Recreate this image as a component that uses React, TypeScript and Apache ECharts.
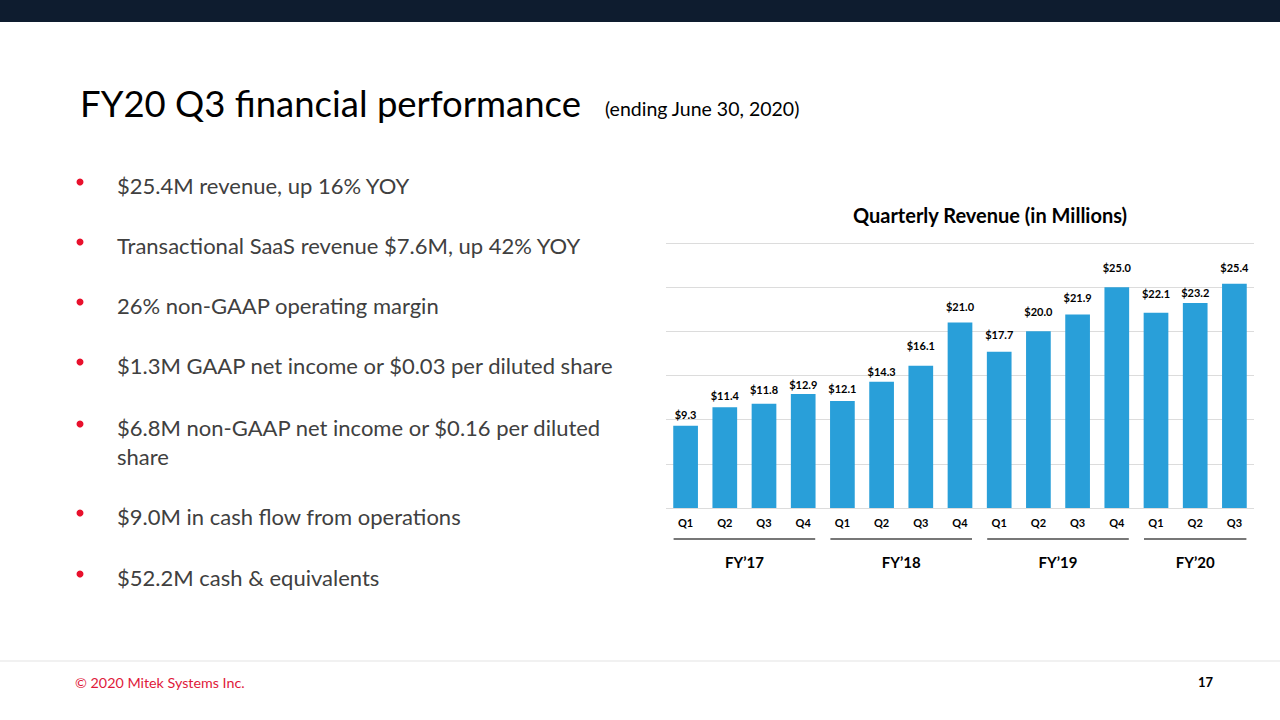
import React, { useEffect, useRef } from "react";
import * as echarts from "echarts";

const quarters = ["Q1", "Q2", "Q3", "Q4", "Q1", "Q2", "Q3", "Q4", "Q1", "Q2", "Q3", "Q4", "Q1", "Q2", "Q3"];
const revenue = [9.3, 11.4, 11.8, 12.9, 12.1, 14.3, 16.1, 21.0, 17.7, 20.0, 21.9, 25.0, 22.1, 23.2, 25.4];
const fiscalYears = ["FY\u201917", "FY\u201918", "FY\u201919", "FY\u201920"];
const yearStart = [0, 4, 8, 12];
const yearEnd = [3, 7, 11, 14];
const bullets = [
  ["$25.4M revenue, up 16% YOY"],
  ["Transactional SaaS revenue $7.6M, up 42% YOY"],
  ["26% non-GAAP operating margin"],
  ["$1.3M GAAP net income or $0.03 per diluted share"],
  ["$6.8M non-GAAP net income or $0.16 per diluted", "share"],
  ["$9.0M in cash flow from operations"],
  ["$52.2M cash & equivalents"],
];
const yTicks = { min: 0, max: 30, interval: 5 };

// style only: label lift above each bar (px)
const labelLift = [6, 6, 9, 4, 7, 5, 15, 11, 12, 14, 12, 14, 14, 5, 11];

const FONT = "Lato, 'Open Sans', sans-serif";
const bulletY = [185, 245, 305, 365, 427, 516, 577];

export default function App() {
  const ref = useRef<HTMLDivElement>(null);
  useEffect(() => {
    if (!ref.current) return;
    const chart = echarts.init(ref.current, undefined, { renderer: "svg" });
    const staticGraphics: any[] = [
      { type: "rect", shape: { x: 0, y: 0, width: 1280, height: 22 }, style: { fill: "#0e1c2f" } },
      {
        type: "text", x: 80, y: 103,
        style: { text: "FY20 Q3 financial performance", font: `36.5px ${FONT}`, fill: "#000", textVerticalAlign: "middle" },
      },
      {
        type: "text", x: 605, y: 108,
        style: { text: "(ending June 30, 2020)", font: `19.5px ${FONT}`, fill: "#000", textVerticalAlign: "middle" },
      },
      {
        type: "text", x: 990, y: 215,
        style: { text: "Quarterly Revenue (in Millions)", font: `bold 20px ${FONT}`, fill: "#000", textAlign: "center", textVerticalAlign: "middle" },
      },
      { type: "line", shape: { x1: 0, y1: 661, x2: 1280, y2: 661 }, style: { stroke: "#e3e3e3", lineWidth: 1 } },
      {
        type: "text", x: 75, y: 682,
        style: { text: "\u00a9 2020 Mitek Systems Inc.", font: `14.3px ${FONT}`, fill: "#e0193a", textVerticalAlign: "middle" },
      },
      {
        type: "text", x: 1213, y: 682,
        style: { text: "17", font: `bold 13px ${FONT}`, fill: "#000", textAlign: "right", textVerticalAlign: "middle" },
      },
    ];
    bullets.forEach((lines, i) => {
      staticGraphics.push({ type: "circle", shape: { cx: 80, cy: bulletY[i] - 3, r: 3.5 }, style: { fill: "#e8102c" } });
      lines.forEach((t, j) => {
        staticGraphics.push({
          type: "text", x: 117, y: bulletY[i] + j * 29,
          style: { text: t, font: `22px ${FONT}`, fill: "#404040", textVerticalAlign: "middle" },
        });
      });
    });

    chart.setOption({
      animation: false,
      backgroundColor: "#fff",
      grid: { left: 666, right: 26, top: 243, bottom: 212, containLabel: false },
      xAxis: {
        type: "category",
        data: quarters,
        axisLine: { show: false },
        axisTick: { show: false },
        axisLabel: { color: "#000", fontWeight: "bold", fontSize: 11, fontFamily: FONT, margin: 9, interval: 0 },
      },
      yAxis: {
        type: "value",
        min: yTicks.min, max: yTicks.max, interval: yTicks.interval,
        axisLabel: { show: false },
        axisLine: { show: false },
        axisTick: { show: false },
        splitLine: { lineStyle: { color: "#dcdcdc", width: 1 } },
      },
      series: [
        {
          type: "bar",
          data: revenue.map((v, i) => ({
            value: v,
            label: { distance: labelLift[i] },
          })),
          barWidth: "63%",
          itemStyle: { color: "#299fd9" },
          label: {
            show: true,
            position: "top",
            formatter: (p: any) => "$" + Number(p.value).toFixed(1),
            color: "#000",
            fontWeight: "bold",
            fontSize: 11,
            fontFamily: FONT,
          },
        },
      ],
      graphic: staticGraphics,
    });

    const px = (i: number) => (chart.convertToPixel({ xAxisIndex: 0 }, i) as unknown) as number;
    const dyn: any[] = [];
    fiscalYears.forEach((fy, k) => {
      const a = px(yearStart[k]);
      const b = px(yearEnd[k]);
      dyn.push({ type: "line", shape: { x1: a - 12, y1: 539, x2: b + 12, y2: 539 }, style: { stroke: "#4a4a4a", lineWidth: 1.3 } });
      dyn.push({
        type: "text", x: (a + b) / 2, y: 562,
        style: { text: fy, font: `bold 15px ${FONT}`, fill: "#000", textAlign: "center", textVerticalAlign: "middle" },
      });
    });
    chart.setOption({ graphic: [...staticGraphics, ...dyn] });

    return () => chart.dispose();
  }, []);
  return <div ref={ref} style={{ position: "fixed", left: 0, top: 0, width: 1280, height: 720 }} />;
}
